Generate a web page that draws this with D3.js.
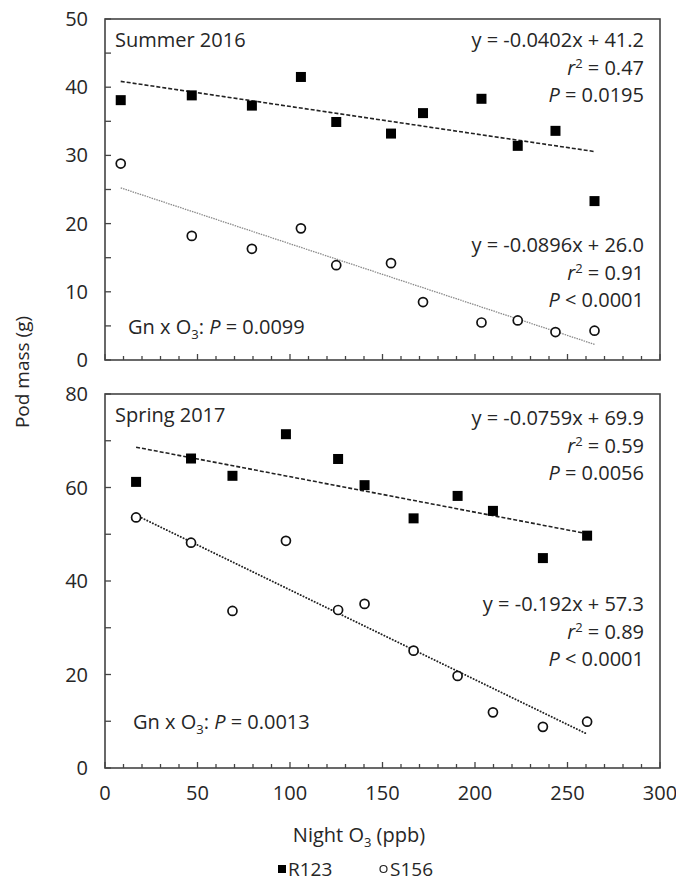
<!DOCTYPE html>
<html>
<head>
  <meta charset="utf-8">
  <script src="https://cdn.jsdelivr.net/npm/d3@7"></script>
  <style type="text/css">
    body { margin: 0; background: #fff; }
    text { font-family: "Open Sans", sans-serif; fill: #262626; }
  </style>
</head>
<body>
<script type="text/javascript">
  // values
  var summerX    = [8.5, 46.9, 79.4, 105.9, 125.0, 154.6, 171.9, 203.5, 223.1, 243.5, 264.6];
  var summerR123 = [38.1, 38.8, 37.3, 41.5, 34.9, 33.2, 36.2, 38.3, 31.4, 33.6, 23.3];
  var summerS156 = [28.8, 18.2, 16.3, 19.3, 13.9, 14.2, 8.5, 5.5, 5.8, 4.1, 4.3];

  var springX    = [16.8, 46.5, 68.9, 97.8, 126.0, 140.3, 166.8, 190.6, 209.7, 236.7, 260.6];
  var springR123 = [61.2, 66.2, 62.5, 71.4, 66.1, 60.5, 53.4, 58.2, 55.0, 44.9, 49.7];
  var springS156 = [53.6, 48.2, 33.6, 48.6, 33.8, 35.1, 25.1, 19.7, 11.9, 8.8, 9.9];

  // regression labels: [slope, intercept, r2, P text]
  var summerFitR123 = [-0.0402, 41.2, "0.47", "= 0.0195"];
  var summerFitS156 = [-0.0896, 26.0, "0.91", "< 0.0001"];
  var springFitR123 = [-0.0759, 69.9, "0.59", "= 0.0056"];
  var springFitS156 = [-0.192, 57.3, "0.89", "< 0.0001"];

  var xTicks = [0, 50, 100, 150, 200, 250, 300];
  var summerYTicks = [0, 10, 20, 30, 40, 50];
  var springYTicks = [0, 20, 40, 60, 80];

  var width = 676, height = 883;
  var left = 105, right = 660;

  var svg = d3.select("body").append("svg")
    .attr("width", width)
    .attr("height", height);

  var x = d3.scaleLinear().domain([0, 300]).range([left, right]);

  function panel(opts) {
    var y = d3.scaleLinear().domain([0, opts.ymax]).range([opts.bottom, opts.top]);
    var g = svg.append("g");

    // ticks inside the frame
    var minorX = d3.range(0, 301, 10);
    g.selectAll(".xt").data(minorX).enter().append("line")
      .attr("x1", d => x(d)).attr("x2", d => x(d))
      .attr("y1", opts.bottom).attr("y2", d => opts.bottom - (d % 50 === 0 ? 6 : 4))
      .attr("stroke", "#444").attr("stroke-width", 1.3);
    var minorY = d3.range(0, opts.ymax + 0.1, opts.ymax / (opts.yticks.length - 1) / 2);
    g.selectAll(".yt").data(minorY).enter().append("line")
      .attr("x1", left).attr("x2", d => left + 6)
      .attr("y1", d => y(d)).attr("y2", d => y(d))
      .attr("stroke", "#444").attr("stroke-width", 1.3);

    g.append("rect")
      .attr("x", left).attr("y", opts.top)
      .attr("width", right - left).attr("height", opts.bottom - opts.top)
      .attr("fill", "none").attr("stroke", "#444").attr("stroke-width", 1.6);

    g.selectAll(".yl").data(opts.yticks).enter().append("text")
      .attr("x", left - 17).attr("y", d => y(d) + 7)
      .attr("text-anchor", "end")
      .style("font-size", "20px")
      .text(d => d);

    // trend lines
    function fit(coef, dash, color, w, cap) {
      var xs = d3.extent(opts.xs);
      g.append("line")
        .attr("x1", x(xs[0])).attr("y1", y(coef[0] * xs[0] + coef[1]))
        .attr("x2", x(xs[1])).attr("y2", y(coef[0] * xs[1] + coef[1]))
        .attr("stroke", color).attr("stroke-width", w)
        .attr("stroke-dasharray", dash)
        .attr("stroke-linecap", cap);
    }
    fit(opts.fitR, "4,2", "#222", 1.6, "butt");
    fit(opts.fitS, opts.sDash, opts.sColor, opts.sWidth, opts.sCap);

    // markers
    var pts = opts.xs.map((d, i) => ({ x: d, r: opts.r[i], s: opts.s[i] }));
    g.selectAll(".sq").data(pts).enter().append("rect")
      .attr("x", d => x(d.x) - 5).attr("y", d => y(d.r) - 5)
      .attr("width", 10).attr("height", 10)
      .attr("fill", "#000");
    g.selectAll(".ci").data(pts).enter().append("circle")
      .attr("cx", d => x(d.x)).attr("cy", d => y(d.s))
      .attr("r", 4.5)
      .attr("fill", "#fff").attr("stroke", "#111").attr("stroke-width", 1.7);

    // labels
    g.append("text").attr("x", 115).attr("y", opts.top + 28)
      .style("font-size", "20px").text(opts.title);

    function stats(coef, yb) {
      var sign = coef[1] >= 0 ? " + " : " - ";
      g.append("text").attr("x", 644).attr("y", yb).attr("text-anchor", "end")
        .style("font-size", "20px")
        .text("y = " + coef[0] + "x" + sign + coef[1].toFixed(1));
      var t2 = g.append("text").attr("x", 644).attr("y", yb + 27.5).attr("text-anchor", "end")
        .style("font-size", "20px");
      t2.append("tspan").style("font-style", "italic").text("r");
      t2.append("tspan").attr("dy", -7).style("font-size", "13px").text("2");
      t2.append("tspan").attr("dy", 7).text(" = " + coef[2]);
      var t3 = g.append("text").attr("x", 644).attr("y", yb + 55).attr("text-anchor", "end")
        .style("font-size", "20px");
      t3.append("tspan").style("font-style", "italic").text("P");
      t3.append("tspan").text(" " + coef[3]);
    }
    stats(opts.fitR, opts.statR);
    stats(opts.fitS, opts.statS);

    var gn = g.append("text").attr("x", opts.gnX).attr("y", opts.gnY)
      .style("font-size", "20px");
    gn.append("tspan").text("Gn x O");
    gn.append("tspan").attr("dy", 5).style("font-size", "13px").text("3");
    gn.append("tspan").attr("dy", -5).text(": ");
    gn.append("tspan").style("font-style", "italic").text("P");
    gn.append("tspan").text(" = " + opts.gn);

    return y;
  }

  panel({
    top: 19, bottom: 360, ymax: 50, yticks: summerYTicks,
    xs: summerX, r: summerR123, s: summerS156,
    fitR: summerFitR123, fitS: summerFitS156,
    sDash: "1.5,1", sColor: "#8a8a8a", sWidth: 1.3, sCap: "butt",
    title: "Summer 2016", statR: 47, statS: 252,
    gnX: 128, gnY: 334, gn: "0.0099"
  });

  panel({
    top: 394, bottom: 768, ymax: 80, yticks: springYTicks,
    xs: springX, r: springR123, s: springS156,
    fitR: springFitR123, fitS: springFitS156,
    sDash: "0.1,3", sColor: "#222", sWidth: 1.9, sCap: "round",
    title: "Spring 2017", statR: 425, statS: 611,
    gnX: 133, gnY: 729, gn: "0.0013"
  });

  // x tick labels under the bottom panel
  svg.selectAll(".xl").data(xTicks).enter().append("text")
    .attr("x", d => x(d)).attr("y", 800)
    .attr("text-anchor", "middle")
    .style("font-size", "20px")
    .text(d => d);

  var xt = svg.append("text").attr("x", 359).attr("y", 842)
    .attr("text-anchor", "middle").style("font-size", "20px");
  xt.append("tspan").text("Night O");
  xt.append("tspan").attr("dy", 5).style("font-size", "13px").text("3");
  xt.append("tspan").attr("dy", -5).text(" (ppb)");

  svg.append("text")
    .attr("transform", "translate(29,372) rotate(-90)")
    .attr("text-anchor", "middle")
    .style("font-size", "19px")
    .text("Pod mass (g)");

  // legend
  var legend = [["R123", "square", 278], ["S156", "circle", 380]];
  legend.forEach(function (d) {
    if (d[1] === "square") {
      svg.append("rect").attr("x", d[2]).attr("y", 865).attr("width", 8).attr("height", 8).attr("fill", "#000");
    } else {
      svg.append("circle").attr("cx", d[2] + 3.5).attr("cy", 869).attr("r", 3.5)
        .attr("fill", "none").attr("stroke", "#222").attr("stroke-width", 1.2);
    }
    svg.append("text").attr("x", d[2] + 10).attr("y", 876)
      .style("font-size", "19px").text(d[0]);
  });
</script>
</body>
</html>
